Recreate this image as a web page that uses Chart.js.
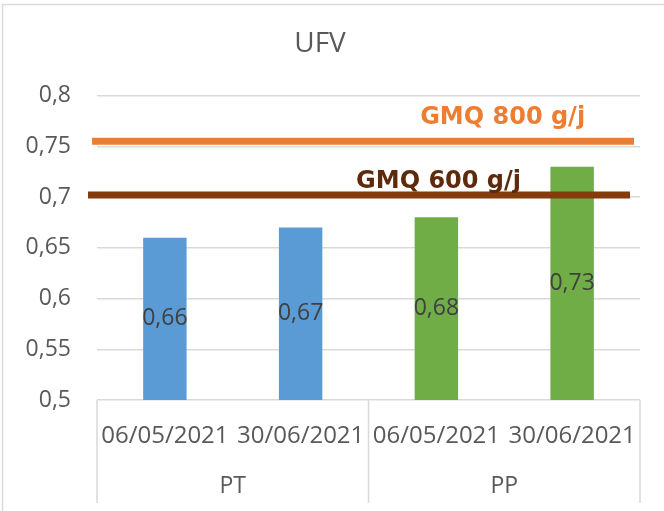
<!DOCTYPE html>
<html lang="fr">
<head>
    <meta charset="UTF-8">
    <title>UFV</title>
    <script src="https://cdn.jsdelivr.net/npm/chart.js"></script>
    <style>
        html, body { margin: 0; padding: 0; background: #fff; }
        #wrap { width: 664px; height: 511px; }
    </style>
</head>
<body>
    <div id="wrap"><canvas id="ufvChart" width="664" height="511"></canvas></div>

    <script>
        // Data
        const dateLabels = ["06/05/2021", "30/06/2021", "06/05/2021", "30/06/2021"];
        const groupLabels = ["PT", "PP"];
        const groupSizes = [2, 2];
        const ufvValues = [0.66, 0.67, 0.68, 0.73];
        const barColors = ["#5B9BD5", "#5B9BD5", "#70AD47", "#70AD47"];

        // Reference lines (GMQ)
        const refLabels = ["GMQ 800 g/j", "GMQ 600 g/j"];
        const refValues = [0.755, 0.702];

        const axisFont = "'Open Sans', 'Liberation Sans', sans-serif";
        const gridColor = "#d9d9d9";

        const fmt = v => String(Number(v.toFixed(2))).replace(".", ",");

        // Frame, reference lines, value labels and the two-level category axis
        const decorations = {
            id: "decorations",
            beforeDraw(chart) {
                const c = chart.ctx;
                c.save();
                c.strokeStyle = gridColor;
                c.lineWidth = 1.5;
                c.strokeRect(2.5, 4.5, 700, 600);
                c.restore();
            },
            afterDatasetsDraw(chart) {
                const c = chart.ctx;
                const x = chart.scales.x;
                const y = chart.scales.y;
                const area = chart.chartArea;

                // value labels in the middle of each bar
                c.save();
                c.font = "23px " + axisFont;
                c.fillStyle = "#404040";
                c.textAlign = "center";
                c.textBaseline = "middle";
                ufvValues.forEach((v, i) => {
                    const px = x.getPixelForValue(i);
                    const mid = (y.getPixelForValue(v) + y.getPixelForValue(y.min)) / 2;
                    c.fillText(fmt(v), px, mid);
                });
                c.restore();

                // GMQ lines with their captions
                const styles = [
                    { line: "#ED7D31", text: "#ED7D31", x0: -5, x1: -6, tx: 0.747, dy: -17 },
                    { line: "#843C0C", text: "#5E2A0C", x0: -9, x1: -10, tx: 0.629, dy: -7 }
                ];
                refValues.forEach((v, i) => {
                    const s = styles[i];
                    const py = y.getPixelForValue(v);
                    c.save();
                    c.strokeStyle = s.line;
                    c.lineWidth = 7;
                    c.beginPath();
                    c.moveTo(area.left + s.x0, py);
                    c.lineTo(area.right + s.x1, py);
                    c.stroke();
                    c.font = "bold 24px 'DejaVu Sans', sans-serif";
                    c.fillStyle = s.text;
                    c.textAlign = "center";
                    c.textBaseline = "alphabetic";
                    c.fillText(refLabels[i], area.left + s.tx * (area.right - area.left), py + s.dy);
                    c.restore();
                });

                // group separators and group names
                const half = (x.getPixelForValue(1) - x.getPixelForValue(0)) / 2;
                c.save();
                c.strokeStyle = gridColor;
                c.lineWidth = 1.5;
                c.font = "23px " + axisFont;
                c.fillStyle = "#595959";
                c.textAlign = "center";
                c.textBaseline = "middle";
                let start = 0;
                const edges = [x.getPixelForValue(0) - half];
                groupSizes.forEach((n, g) => {
                    const left = x.getPixelForValue(start) - half;
                    const right = x.getPixelForValue(start + n - 1) + half;
                    edges.push(right);
                    c.fillText(groupLabels[g], (left + right) / 2, area.bottom + 86);
                    start += n;
                });
                edges.forEach(e => {
                    c.beginPath();
                    c.moveTo(e, area.bottom);
                    c.lineTo(e, area.bottom + 103);
                    c.stroke();
                });
                c.restore();
            }
        };

        new Chart(document.getElementById("ufvChart"), {
            type: "bar",
            data: {
                labels: dateLabels,
                datasets: [{
                    label: "UFV",
                    data: ufvValues,
                    backgroundColor: barColors,
                    barPercentage: 0.32,
                    categoryPercentage: 1
                }]
            },
            options: {
                responsive: false,
                animation: false,
                layout: { padding: { left: 0, right: 24, top: 0, bottom: 0 } },
                plugins: {
                    legend: { display: false },
                    tooltip: { enabled: false },
                    title: {
                        display: true,
                        text: "UFV",
                        color: "#595959",
                        font: { family: axisFont, size: 28, weight: "normal" },
                        padding: { top: 27, bottom: 35 }
                    }
                },
                scales: {
                    x: {
                        grid: { display: false },
                        border: { display: false },
                        ticks: {
                            color: "#595959",
                            font: { family: axisFont, size: 24 },
                            padding: 14,
                            maxRotation: 0,
                            autoSkip: false
                        },
                        afterFit(scale) { scale.height = 111; }
                    },
                    y: {
                        min: 0.5,
                        max: 0.8,
                        grid: { color: gridColor, lineWidth: 1.5, drawTicks: false },
                        border: { display: false },
                        ticks: {
                            stepSize: 0.05,
                            color: "#595959",
                            font: { family: axisFont, size: 23 },
                            padding: 26,
                            callback: v => fmt(v)
                        },
                        afterFit(scale) { scale.width = 97; }
                    }
                }
            },
            plugins: [decorations]
        });
    </script>
</body>
</html>
